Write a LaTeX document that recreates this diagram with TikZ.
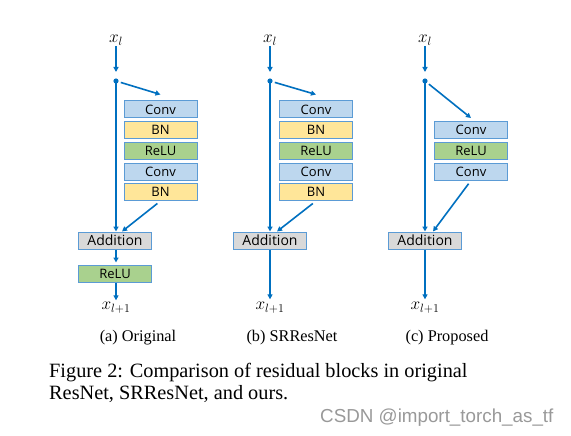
\documentclass[tikz,border=0pt]{standalone}
\usepackage{fontspec}
\setmainfont{Liberation Serif}
\newfontfamily\boxfont{Open Sans}
\newfontfamily\markfont{Liberation Sans}
\usetikzlibrary{arrows.meta}
\definecolor{flow}{HTML}{0070C0}
\definecolor{edge}{HTML}{5B9BD5}
\definecolor{convfill}{HTML}{BDD7EE}
\definecolor{bnfill}{HTML}{FFE699}
\definecolor{relufill}{HTML}{A9D18E}
\definecolor{addfill}{HTML}{D9D9D9}
\begin{document}
\begin{tikzpicture}[x=1pt,y=-1pt,
  arr/.style={draw=flow,line width=1.6pt,-{Triangle[length=5pt,width=5pt]}},
  blk/.style={draw=edge,line width=1pt,minimum width=73pt,minimum height=17pt,inner sep=0pt,
    font=\boxfont\fontsize{13}{14}\selectfont},
  conv/.style={blk,fill=convfill},
  bn/.style={blk,fill=bnfill},
  relu/.style={blk,fill=relufill},
  add/.style={blk,fill=addfill,font=\boxfont\fontsize{14}{15}\selectfont},
  var/.style={inner sep=1pt,font=\fontsize{16.5}{18}\selectfont},
  sub/.style={inner sep=0pt,font=\fontsize{16.3}{18}\selectfont}]
\useasboundingbox[fill=white] (0,0) rectangle (571,436);
% (a) original
\node[var] (xa) at (116,40) {$x_l$};
\coordinate (da) at (116,81);
\node[conv] (a1) at (160.5,109.5) {Conv};
\node[bn] (a2) at (160.5,130) {BN};
\node[relu] (a3) at (160.5,150.5) {ReLU};
\node[conv] (a4) at (160.5,171.5) {Conv};
\node[bn] (a5) at (160.5,192) {BN};
\node[add] (aadd) at (115,240.5) {Addition};
\node[relu] (arelu) at (115,273.5) {ReLU};
\node[var] (ya) at (116,308) {$x_{l+1}$};
\draw[arr,shorten >=9pt] (xa) -- (da);
\fill[flow] (da) circle (2.6);
\draw[arr] (da) -- ([xshift=1pt]aadd.north);
\draw[arr,shorten <=5pt] (da) -- ([yshift=6pt]a1.north);
\draw[arr,shorten <=4pt] (a5.south) -- ([xshift=7pt]aadd.north);
\draw[arr,shorten >=2pt] ([xshift=1pt]aadd.south) -- ([xshift=1pt]arelu.north);
\draw[arr,shorten >=1pt] ([xshift=1pt]arelu.south) -- (ya);
\node[sub,anchor=base] (capa) at (138,341) {(a) Original};
% (b) SRResNet
\node[var] (xb) at (270,40) {$x_l$};
\coordinate (db) at (270,81);
\node[conv] (b1) at (316,109.5) {Conv};
\node[bn] (b2) at (316,130) {BN};
\node[relu] (b3) at (316,150.5) {ReLU};
\node[conv] (b4) at (316,171.5) {Conv};
\node[bn] (b5) at (316,192) {BN};
\node[add] (badd) at (270,240.5) {Addition};
\node[var] (yb) at (270,308) {$x_{l+1}$};
\draw[arr,shorten >=9pt] (xb) -- (db);
\fill[flow] (db) circle (2.6);
\draw[arr] (db) -- (badd.north);
\draw[arr,shorten <=5pt] (db) -- ([yshift=6pt]b1.north);
\draw[arr,shorten <=4pt] (b5.south) -- ([xshift=7pt]badd.north);
\draw[arr,shorten >=2pt] (badd.south) -- (yb);
\node[sub,anchor=base] (capb) at (292,341) {(b) SRResNet};
% (c) proposed
\node[var] (xc) at (425,40) {$x_l$};
\coordinate (dc) at (425,81);
\node[conv] (c1) at (471,130) {Conv};
\node[relu] (c2) at (471,150.5) {ReLU};
\node[conv] (c3) at (471,171.5) {Conv};
\node[add] (cadd) at (425,240.5) {Addition};
\node[var] (yc) at (425,308) {$x_{l+1}$};
\draw[arr,shorten >=9pt] (xc) -- (dc);
\fill[flow] (dc) circle (2.6);
\draw[arr] (dc) -- (cadd.north);
\draw[arr,shorten <=5pt] (dc) -- ([yshift=3pt]c1.north);
\draw[arr,shorten <=4pt] (c3.south) -- ([xshift=8pt]cadd.north);
\draw[arr,shorten >=2pt] (cadd.south) -- (yc);
\node[sub,anchor=base] (capc) at (447,341) {(c) Proposed};
% caption
\node[anchor=base west,inner sep=0pt,font=\fontsize{20.3}{24}\selectfont] (fig1) at (49,377)
  {Figure 2: Comparison of residual blocks in original};
\node[anchor=base west,inner sep=0pt,font=\fontsize{20.3}{24}\selectfont] (fig2) at (49,399)
  {ResNet, SRResNet, and ours.};
\node[anchor=base west,inner sep=0pt,text=black!40,font=\markfont\fontsize{18.8}{20}\selectfont] (mark) at (320,422)
  {CSDN @import\_torch\_as\_tf};
\end{tikzpicture}
\end{document}
